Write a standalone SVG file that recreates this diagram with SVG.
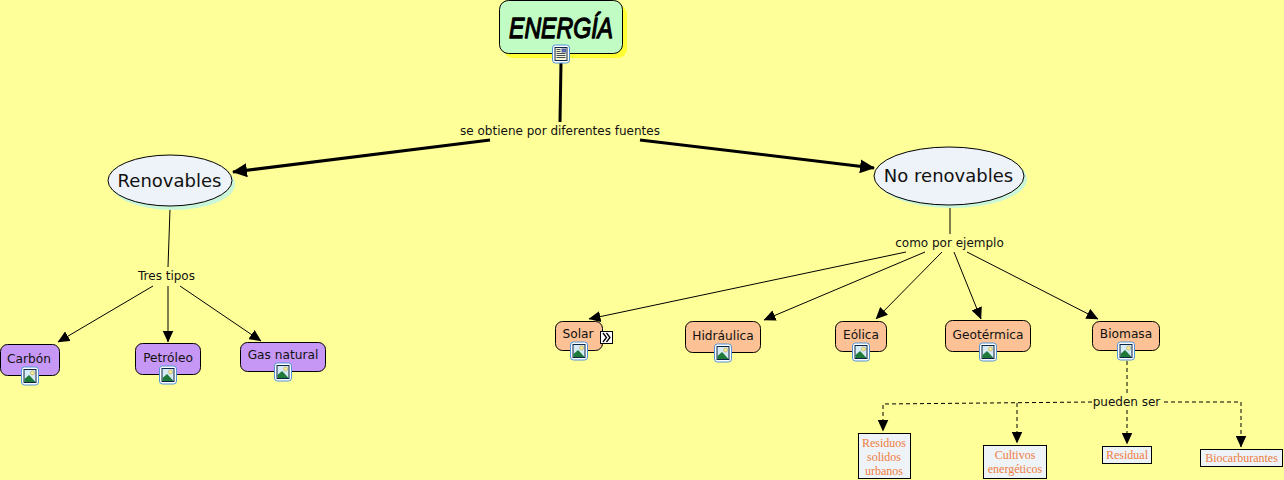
<svg xmlns="http://www.w3.org/2000/svg" width="1284" height="480" viewBox="0 0 1284 480">
<style>
text{font-family:"DejaVu Sans",Verdana,sans-serif;fill:#111;text-anchor:middle}
.lbl{font-size:12px}
.el{fill:#edf3f8;stroke:#000;stroke-width:1}
.elt{font-size:18px;fill:#111}
.pur{fill:#c797f5;stroke:#000;stroke-width:1}
.ora{fill:#fcc194;stroke:#000;stroke-width:1}
.n{font-size:12.200px}
.box{fill:#eef3f8;stroke:#000;stroke-width:1}
.bt{font-family:"Liberation Serif","Times New Roman",serif;font-size:12px;fill:#ee7d3f}
.thick{stroke:#000;stroke-width:3;fill:none}
.thin{stroke:#000;stroke-width:1;fill:none}
.dash{stroke:#000;stroke-width:1;fill:none;stroke-dasharray:4 3}
</style>
<defs>
<marker id="ab" markerUnits="userSpaceOnUse" markerWidth="12" markerHeight="11" refX="11.500" refY="5.500" orient="auto"><path d="M0 0L12 5.500L0 11z" fill="#000"/></marker>
<marker id="abt" markerUnits="userSpaceOnUse" markerWidth="15" markerHeight="14" refX="14" refY="7" orient="auto"><path d="M0 0L15 7L0 14z" fill="#000"/></marker>
<g id="img">
<rect x="-8.500" y="-9" width="17" height="18" rx="3" fill="#fff" stroke="#4f94d8" stroke-width="1"/>
<rect x="-6" y="-6.500" width="12" height="13" fill="#d7ebf7" stroke="#0b2545" stroke-width="1"/>
<circle cx="2.500" cy="-3" r="2" fill="#f7ec9a" stroke="#b9a24f" stroke-width=".6"/>
<path d="M-5.500 6L-5.500 3L-1 -1L1 1L5.500 6z" fill="#1f7a3a"/>
</g>
<g id="doc">
<rect x="-8.500" y="-9" width="17" height="18" rx="3" fill="#fff" stroke="#4f94d8" stroke-width="1"/>
<rect x="-6" y="-6.500" width="12" height="13" fill="#f8f5d8" stroke="#0b2545" stroke-width="1"/>
<path d="M-4.500 -4.500H-.5M-4.500 -2.500H-.5M-4.500 -.5H4.500M-4.500 1.500H4.500M-4.500 3.500H4.500" stroke="#123" stroke-width=".8"/>
<rect x=".5" y="-5.500" width="4.500" height="4" fill="#56a"/>
</g>
</defs>
<rect width="1284" height="480" fill="#ffff99"/>
<g id="connectors">
<path class="thick" d="M561 62L560 122"/>
<path class="thick" marker-end="url(#abt)" d="M490 140L233 172"/>
<path class="thick" marker-end="url(#abt)" d="M640 140L874 168"/>
<path class="thin" d="M170 209L168 267"/>
<path class="thin" marker-end="url(#ab)" d="M153 286L58 342"/>
<path class="thin" marker-end="url(#ab)" d="M168 286L168 342"/>
<path class="thin" marker-end="url(#ab)" d="M180 286L261 341"/>
<path class="thin" d="M950 208L950 234"/>
<path class="thin" marker-end="url(#ab)" d="M906 252L589 319"/>
<path class="thin" marker-end="url(#ab)" d="M925 252L764 320"/>
<path class="thin" marker-end="url(#ab)" d="M942 252L876 319"/>
<path class="thin" marker-end="url(#ab)" d="M954 252L981 319"/>
<path class="thin" marker-end="url(#ab)" d="M967 252L1098 319"/>
<path class="dash" d="M1127 361L1127 393"/>
<path class="dash" marker-end="url(#ab)" d="M1092 402L883 404L883 431"/>
<path class="dash" marker-end="url(#ab)" d="M1017 403L1017 443"/>
<path class="dash" marker-end="url(#ab)" d="M1127 410L1127 444"/>
<path class="dash" marker-end="url(#ab)" d="M1164 402L1241 402L1241 447"/>
</g>
<g id="labels">
<text class="lbl" x="560" y="134.500">se obtiene por diferentes fuentes</text>
<text class="lbl" x="166.500" y="280">Tres tipos</text>
<text class="lbl" x="949.500" y="246.500">como por ejemplo</text>
<text class="lbl" x="1126.500" y="405.500">pueden ser</text>
</g>
<g id="energia">
<rect x="504" y="5" width="123" height="53" rx="9" fill="#ffff33"/>
<rect x="499.500" y="0.500" width="123" height="53" rx="9" fill="#c0fcc4" stroke="#000"/>
<text x="561" y="38" style="font-family:'Liberation Sans',sans-serif;font-size:30px;font-style:italic;fill:#000;stroke:#000;stroke-width:1.300px;stroke-linejoin:round" textLength="104" lengthAdjust="spacingAndGlyphs">ENERGÍA</text>
<use href="#doc" x="561" y="54"/>
</g>
<g id="renovables">
<ellipse cx="173" cy="184" rx="62" ry="26" fill="#c9f7d8"/>
<ellipse class="el" cx="170" cy="180.500" rx="62" ry="25.500"/>
<text class="elt" x="169.500" y="187">Renovables</text>
</g>
<g id="no-renovables">
<ellipse cx="952" cy="179" rx="75" ry="29" fill="#c9f7d8"/>
<ellipse class="el" cx="949" cy="176" rx="75" ry="29"/>
<text class="elt" x="948.500" y="182">No renovables</text>
</g>
<g id="carbon">
<rect class="pur" x="0.500" y="344.500" width="59" height="31" rx="7"/>
<text class="n" x="29" y="363">Carbón</text>
<use href="#img" x="30" y="376"/>
</g>
<g id="petroleo">
<rect class="pur" x="135.500" y="343.500" width="65" height="31" rx="7"/>
<text class="n" x="168" y="362">Petróleo</text>
<use href="#img" x="168" y="375"/>
</g>
<g id="gas-natural">
<rect class="pur" x="240.500" y="342.500" width="85" height="29" rx="7"/>
<text class="n" x="283" y="359">Gas natural</text>
<use href="#img" x="283" y="372"/>
</g>
<g id="solar">
<rect class="ora" x="555.500" y="321.500" width="47" height="29" rx="7"/>
<text class="n" x="578" y="338">Solar</text>
<use href="#img" x="579" y="351"/>
<rect x="600.500" y="331.500" width="12" height="12" fill="#fff" stroke="#000"/>
<path d="M603 333L606.500 337.500L603 342M606.500 333L610 337.500L606.500 342" fill="none" stroke="#000" stroke-width="1.300"/>
</g>
<g id="hidraulica">
<rect class="ora" x="685.500" y="321.500" width="75" height="31" rx="7"/>
<text class="n" x="723" y="340">Hidráulica</text>
<use href="#img" x="723" y="353"/>
</g>
<g id="eolica">
<rect class="ora" x="835.500" y="321.500" width="51" height="30" rx="7"/>
<text class="n" x="861" y="339">Eólica</text>
<use href="#img" x="861" y="352"/>
</g>
<g id="geotermica">
<rect class="ora" x="945.500" y="320.500" width="85" height="31" rx="7"/>
<text class="n" x="988" y="339">Geotérmica</text>
<use href="#img" x="988" y="352"/>
</g>
<g id="biomasa">
<rect class="ora" x="1092.500" y="321.500" width="67" height="29" rx="7"/>
<text class="n" x="1126" y="338">Biomasa</text>
<use href="#img" x="1126" y="351"/>
</g>
<g id="residuos">
<rect class="box" x="858.500" y="433.500" width="52" height="45"/>
<text class="bt" x="884" y="446.500">Residuos</text>
<text class="bt" x="884" y="460.500">solidos</text>
<text class="bt" x="884" y="474.500">urbanos</text>
</g>
<g id="cultivos">
<rect class="box" x="983.500" y="445.500" width="63" height="33"/>
<text class="bt" x="1015" y="458.500">Cultivos</text>
<text class="bt" x="1015" y="472.500">energéticos</text>
</g>
<g id="residual">
<rect class="box" x="1102.500" y="446.500" width="49" height="17"/>
<text class="bt" x="1127" y="459">Residual</text>
</g>
<g id="biocarburantes">
<rect class="box" x="1200.500" y="449.500" width="82" height="17"/>
<text class="bt" x="1241.500" y="462">Biocarburantes</text>
</g>
</svg>
